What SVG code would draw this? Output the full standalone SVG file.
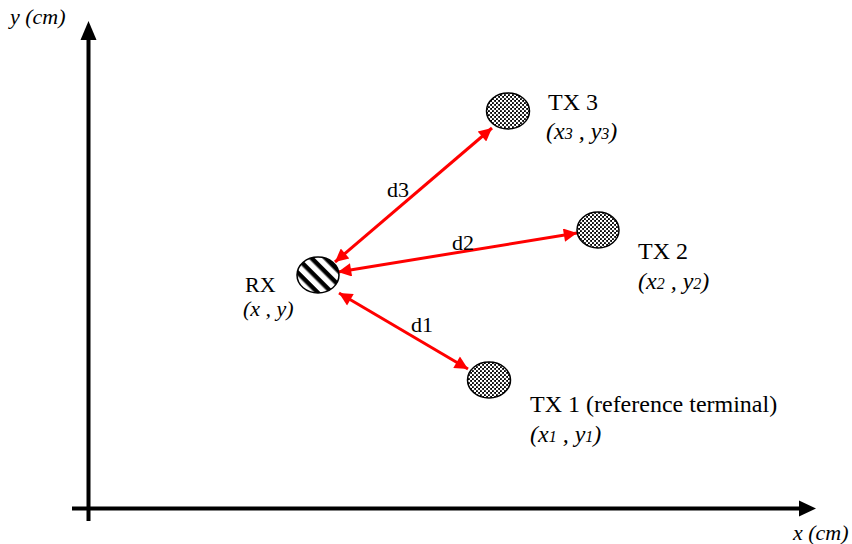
<svg xmlns="http://www.w3.org/2000/svg" width="852" height="544" viewBox="0 0 852 544">
  <defs>
    <style>
      .lbl { font-family: "Liberation Serif", "Times New Roman", serif; font-size: 22px; fill: #000; }
      .big { font-size: 24px; }
      .it { font-style: italic; }
      .axis { stroke: #000; stroke-width: 4; fill: none; }
      .link { stroke: #ff0000; stroke-width: 3; fill: none; marker-start: url(#redStart); marker-end: url(#redEnd); }
      .node { stroke: #000; stroke-width: 1.5; }
    </style>
    <marker id="redEnd" viewBox="0 0 10 10" refX="10" refY="5" markerWidth="5.2" markerHeight="4.4" markerUnits="strokeWidth" orient="auto">
      <path d="M0,0 L10,5 L0,10 Z" fill="#ff0000"/>
    </marker>
    <marker id="redStart" viewBox="0 0 10 10" refX="0" refY="5" markerWidth="5.2" markerHeight="4.4" markerUnits="strokeWidth" orient="auto">
      <path d="M10,0 L0,5 L10,10 Z" fill="#ff0000"/>
    </marker>
    <pattern id="dots" width="4" height="4" patternUnits="userSpaceOnUse">
      <rect width="4" height="4" fill="#000"/>
      <circle cx="1" cy="1" r="1.3" fill="#fff"/>
      <circle cx="3" cy="3" r="1.3" fill="#fff"/>
    </pattern>
    <pattern id="stripes" width="10" height="10" patternUnits="userSpaceOnUse" patternTransform="rotate(45)">
      <rect width="10" height="10" fill="#fff"/>
      <rect width="10" height="4.5" fill="#000"/>
    </pattern>
  </defs>

  <g id="axes">
    <line class="axis" x1="88.5" y1="521" x2="88.5" y2="38"/>
    <path d="M88.5,21 L96.5,40 L80.5,40 Z" fill="#000"/>
    <line class="axis" x1="72" y1="508.5" x2="802" y2="508.5"/>
    <path d="M816,508.5 L799,500.5 L799,516.5 Z" fill="#000"/>
    <text class="lbl it" x="10" y="24">y (cm)</text>
    <text class="lbl it" x="793" y="540">x (cm)</text>
  </g>

  <g id="connectors">
    <line class="link" x1="335" y1="262" x2="492" y2="128"/>
    <line class="link" x1="338" y1="272" x2="577" y2="233"/>
    <line class="link" x1="339" y1="293" x2="468" y2="369"/>
    <text class="lbl" x="387" y="197">d3</text>
    <text class="lbl" x="452" y="250">d2</text>
    <text class="lbl" x="411" y="332">d1</text>
  </g>

  <g id="rx">
    <ellipse class="node" cx="318" cy="275" rx="21" ry="18" fill="url(#stripes)"/>
    <text class="lbl" x="245" y="292" font-size="21">RX</text>
    <text class="lbl it" x="243" y="316">(x , y)</text>
  </g>

  <g id="tx3">
    <ellipse class="node" cx="508" cy="111" rx="21.5" ry="18" fill="url(#dots)"/>
    <text class="lbl big" x="548" y="110">TX 3</text>
    <text class="lbl it big" x="546" y="139">(x<tspan font-size="16">3</tspan> , y<tspan font-size="16">3</tspan>)</text>
  </g>

  <g id="tx2">
    <ellipse class="node" cx="598" cy="230" rx="21" ry="18" fill="url(#dots)"/>
    <text class="lbl big" x="638" y="259">TX 2</text>
    <text class="lbl it big" x="638" y="289">(x<tspan font-size="16">2</tspan> , y<tspan font-size="16">2</tspan>)</text>
  </g>

  <g id="tx1">
    <ellipse class="node" cx="489" cy="380" rx="21.5" ry="18" fill="url(#dots)"/>
    <text class="lbl big" x="530" y="412">TX 1 (reference terminal)</text>
    <text class="lbl it big" x="530" y="442">(x<tspan font-size="16">1</tspan> , y<tspan font-size="16">1</tspan>)</text>
  </g>
</svg>
